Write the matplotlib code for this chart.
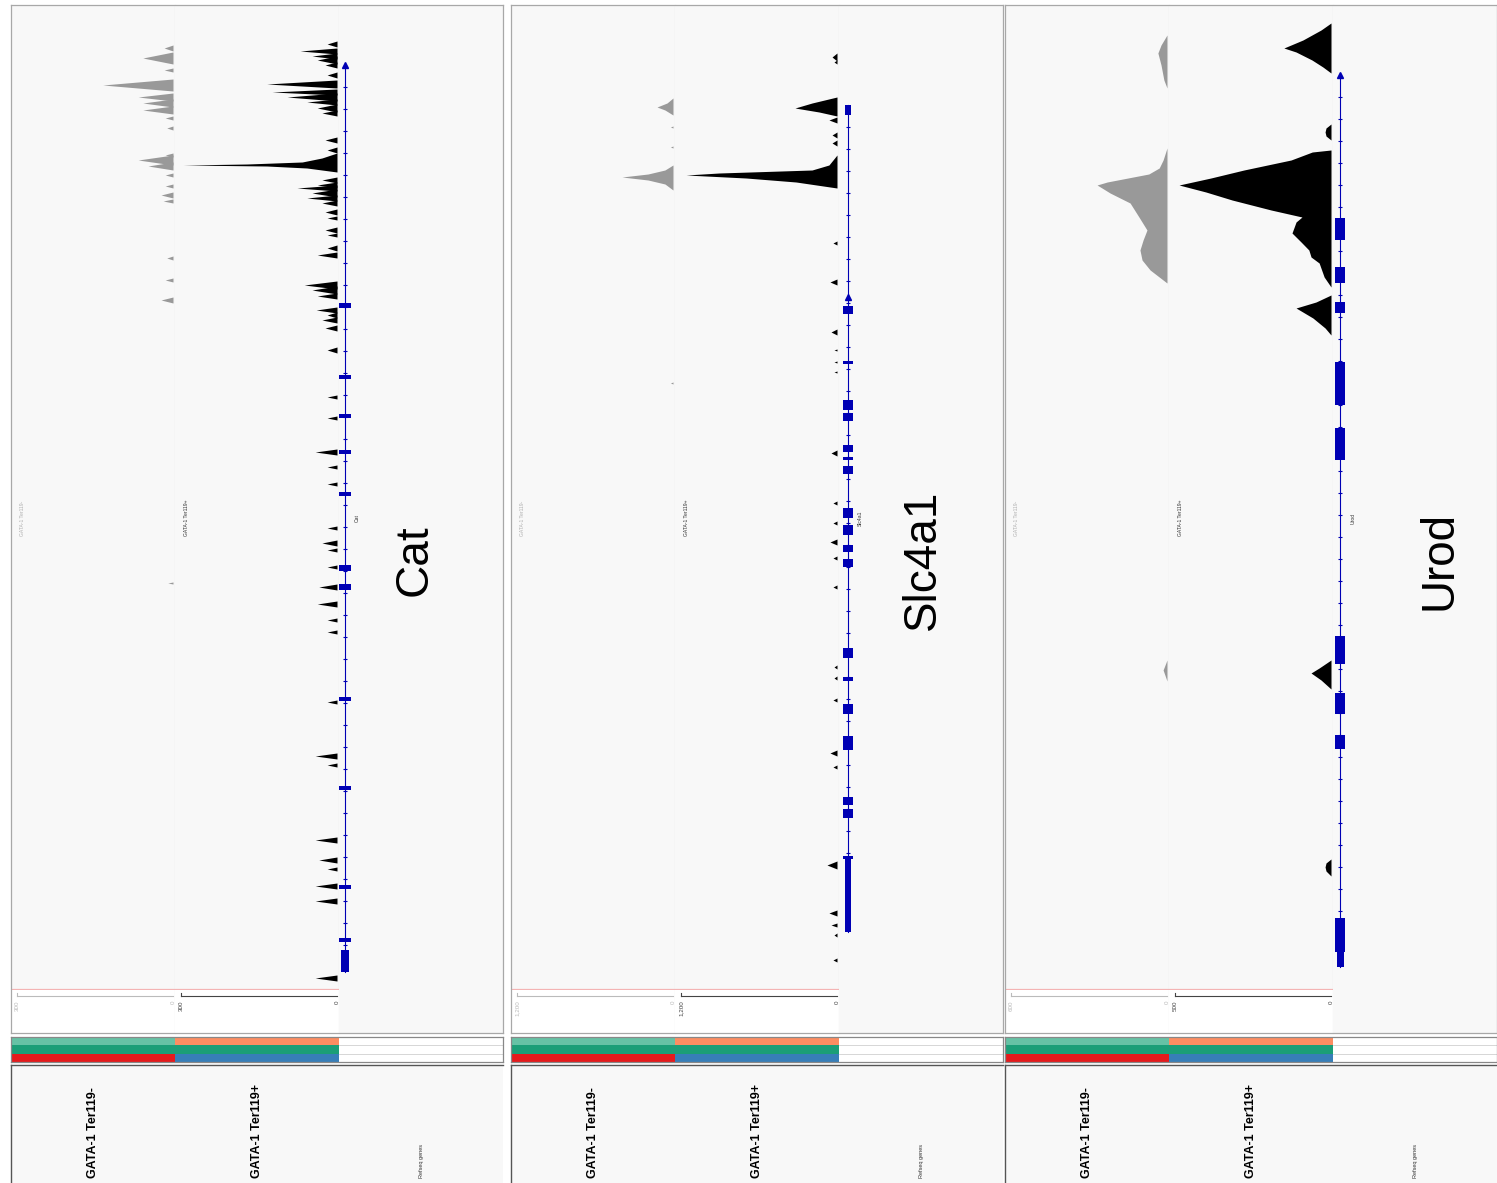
import numpy as np
import matplotlib.pyplot as plt

plt.rcParams['font.family'] = ['Liberation Sans', 'DejaVu Sans']

W, H = 1497, 1183

genes = ['Cat', 'Slc4a1', 'Urod']
track_names = ['GATA-1 Ter119-', 'GATA-1 Ter119+', 'Refseq genes']
scale_max = [[300, 300], [1200, 1200], [600, 500]]
scale_labels = [['300', '300'], ['1,200', '1,200'], ['600', '500']]

# positions are window coordinates (top of window = 5, bottom = 990)
# narrow spikes: (centre, half width, value)
cat_minus_spikes = [(48, 3, 17), (58, 6, 58), (70, 2, 17), (85, 6, 135), (97, 4, 67),
                    (103, 4, 58), (110, 4, 58), (118, 2, 15), (128, 2, 12), (155, 2, 15),
                    (160, 5, 67), (166, 4, 48), (175, 2, 15), (186, 2, 15), (195, 3, 23),
                    (201, 2, 19), (258, 2, 12), (280, 2, 15), (300, 3, 23), (583, 1, 10)]
cat_plus_spikes = [(44, 3, 19), (51, 3, 71), (56, 3, 48), (60, 4, 38), (65, 3, 23),
                   (75, 3, 19), (84, 4, 135), (92, 3, 125), (97, 4, 96), (102, 3, 58),
                   (108, 4, 38), (113, 3, 29), (140, 3, 23), (150, 3, 19), (180, 3, 29),
                   (185, 3, 38), (188, 3, 77), (193, 4, 48), (198, 3, 58), (203, 3, 29),
                   (212, 3, 23), (218, 2, 19), (230, 3, 23), (235, 2, 19), (248, 3, 19),
                   (255, 3, 38), (285, 4, 63), (290, 4, 48), (296, 3, 38), (310, 3, 40),
                   (315, 3, 19), (320, 3, 29), (328, 3, 23), (350, 3, 19), (397, 2, 19),
                   (418, 2, 19), (452, 3, 42), (467, 2, 19), (484, 2, 19), (528, 2, 19),
                   (543, 3, 29), (550, 2, 19), (567, 2, 19), (587, 3, 35), (604, 3, 38),
                   (620, 2, 19), (632, 2, 19), (702, 2, 19), (756, 3, 42), (765, 2, 19),
                   (840, 3, 42), (860, 3, 35), (869, 2, 19), (886, 3, 42), (901, 3, 42),
                   (978, 3, 42)]
cat_plus_peak_pos = [153, 158, 162, 164, 165, 166, 168, 172]
cat_plus_peak_val = [0, 29, 67, 173, 296, 135, 58, 0]

slc_minus_spikes = [(127, 1, 20), (147, 1, 20), (383, 1, 20)]
slc_minus_peak1_pos = [98, 103, 107, 110, 115]
slc_minus_peak1_val = [0, 46, 123, 62, 0]
slc_minus_peak2_pos = [165, 170, 174, 177, 180, 184, 190]
slc_minus_peak2_val = [0, 62, 192, 392, 192, 62, 0]
slc_plus_spikes = [(57, 4, 38), (62, 2, 23), (120, 3, 62), (135, 3, 38), (143, 3, 38),
                   (243, 2, 31), (282, 3, 54), (332, 3, 46), (350, 1, 23), (362, 1, 23),
                   (372, 1, 23), (453, 3, 46), (503, 2, 31), (523, 2, 31), (542, 3, 54),
                   (558, 2, 31), (587, 2, 31), (667, 2, 23), (678, 2, 23), (700, 2, 31),
                   (753, 3, 54), (767, 2, 31), (865, 4, 77), (913, 3, 62), (925, 2, 46),
                   (935, 2, 23), (960, 2, 31)]
slc_plus_peak1_pos = [97, 103, 108, 112, 116]
slc_plus_peak1_val = [0, 192, 323, 138, 0]
slc_plus_peak2_pos = [155, 165, 170, 173, 175, 178, 182, 188]
slc_plus_peak2_val = [0, 62, 192, 907, 1161, 700, 315, 0]

urod_minus_peak1_pos = [35, 45, 53, 65, 80, 88]
urod_minus_peak1_val = [0, 23, 35, 23, 12, 0]
urod_minus_peak2_pos = [148, 160, 168, 174, 178, 182, 185, 188, 193, 203, 217, 230, 240,
                        250, 260, 270, 283]
urod_minus_peak2_val = [0, 15, 30, 70, 150, 230, 269, 250, 219, 142, 108, 77, 92, 104,
                        96, 65, 0]
urod_minus_peak3_pos = [660, 670, 681]
urod_minus_peak3_val = [0, 15, 0]
urod_plus_peak1_pos = [23, 30, 40, 48, 52, 60, 67, 73]
urod_plus_peak1_val = [0, 32, 90, 151, 112, 61, 26, 0]
urod_plus_peak2_pos = [124, 128, 132, 136, 140]
urod_plus_peak2_val = [0, 16, 19, 16, 0]
urod_plus_peak3_pos = [150, 152, 160, 170, 178, 185, 192, 200, 210, 217, 222, 233, 242,
                       250, 257, 263, 277, 287]
urod_plus_peak3_val = [0, 60, 128, 279, 385, 487, 401, 317, 192, 93, 112, 125, 96, 71,
                       64, 38, 22, 0]
urod_plus_peak4_pos = [295, 302, 308, 318, 328, 335]
urod_plus_peak4_val = [0, 48, 112, 58, 19, 0]
urod_plus_peak5_pos = [660, 668, 673, 680, 689]
urod_plus_peak5_val = [0, 38, 64, 32, 0]
urod_plus_peak6_pos = [859, 863, 867, 871, 876]
urod_plus_peak6_val = [0, 16, 19, 16, 0]

# gene models: span, strand arrow starts, exons (start, end) wide / narrow
cat_span = (65, 972)
cat_starts = [65]
cat_exons = [(303, 308), (375, 379), (414, 418), (450, 454), (492, 496), (565, 571),
             (584, 590), (697, 701), (786, 790), (885, 889), (938, 942)]
cat_exons_narrow = [(950, 972)]
slc_span = (105, 932)
slc_starts = [297]
slc_exons = [(306, 314), (361, 364), (400, 410), (413, 421), (445, 452), (457, 460),
             (466, 474), (508, 518), (525, 535), (545, 552), (559, 567), (648, 658),
             (677, 681), (704, 714), (736, 750), (797, 805), (809, 818), (856, 859)]
slc_exons_narrow = [(105, 115), (859, 932)]
urod_span = (75, 967)
urod_starts = [75]
urod_exons = [(218, 240), (267, 283), (302, 313), (362, 405), (428, 460), (636, 664),
              (693, 714), (735, 749), (918, 952)]
urod_exons_narrow = [(952, 967)]

spikes = [[cat_minus_spikes, cat_plus_spikes],
          [slc_minus_spikes, slc_plus_spikes],
          [[], []]]
profiles = [[[], [(cat_plus_peak_pos, cat_plus_peak_val)]],
            [[(slc_minus_peak1_pos, slc_minus_peak1_val), (slc_minus_peak2_pos, slc_minus_peak2_val)],
             [(slc_plus_peak1_pos, slc_plus_peak1_val), (slc_plus_peak2_pos, slc_plus_peak2_val)]],
            [[(urod_minus_peak1_pos, urod_minus_peak1_val), (urod_minus_peak2_pos, urod_minus_peak2_val),
              (urod_minus_peak3_pos, urod_minus_peak3_val)],
             [(urod_plus_peak1_pos, urod_plus_peak1_val), (urod_plus_peak2_pos, urod_plus_peak2_val),
              (urod_plus_peak3_pos, urod_plus_peak3_val), (urod_plus_peak4_pos, urod_plus_peak4_val),
              (urod_plus_peak5_pos, urod_plus_peak5_val), (urod_plus_peak6_pos, urod_plus_peak6_val)]]]
gene_models = [(cat_span, cat_starts, cat_exons, cat_exons_narrow),
               (slc_span, slc_starts, slc_exons, slc_exons_narrow),
               (urod_span, urod_starts, urod_exons, urod_exons_narrow)]

# layout (pixels)
panel_x = [11, 511, 1005]
TW = 164          # track column width
SCALE_PX = 156    # pixels for the full data range
TOP, BOTTOM = 5, 990
gene_x = [0.037, 0.055, 0.045]
name_x = [0.46, 0.51, 0.65]
BG = '#f8f8f8'
FRAME = '#a8a8a8'
DIV = '#cccccc'
GENE_BLUE = '#0000b4'
signal_colors = ['#999999', '#000000']
label_colors = ['#b0b0b0', '#333333']
strip_colors = [['#66c2a5', '#1b9e77', '#e41a1c'],
                ['#fc8d62', '#1b9e77', '#377eb8']]

fig = plt.figure(figsize=(W / 100, H / 100), dpi=100)
fig.patch.set_facecolor('white')


def px_axes(x, y, w, h):
    ax = fig.add_axes([x / W, 1 - (y + h) / H, w / W, h / H])
    ax.set_xticks([])
    ax.set_yticks([])
    return ax


def style_spines(ax, color=DIV, lw=0.8, sides=('right',)):
    for s, sp in ax.spines.items():
        sp.set_visible(s in sides)
        sp.set_color(color)
        sp.set_linewidth(lw)


for p in range(3):
    x0 = panel_x[p]

    # ---- signal tracks ----
    for t in range(2):
        sm = scale_max[p][t]
        xl = (sm * (TW - 2) / SCALE_PX, -sm * 2 / SCALE_PX)
        ax = px_axes(x0 + t * TW, TOP, TW, BOTTOM - TOP)
        ax.set_facecolor(BG)
        ax.set_xlim(*xl)
        ax.set_ylim(BOTTOM, TOP)
        style_spines(ax)
        col = signal_colors[t]
        for c, hw, v in spikes[p][t]:
            ax.fill_betweenx([c - hw, c, c + hw], 0, [0, v, 0], color=col, lw=0)
        for pos, val in profiles[p][t]:
            ax.fill_betweenx(pos, 0, val, color=col, lw=0)
        ax.axhline(BOTTOM - 1.5, color='#f4b4b4', lw=0.9)
        ax.text(11 / TW, 0.479, track_names[t], transform=ax.transAxes, rotation=90,
                fontsize=3.6, color=label_colors[t], ha='center', va='center')

        # scale area
        axs = px_axes(x0 + t * TW, BOTTOM, TW, 43)
        axs.set_facecolor('white')
        axs.set_xlim(*xl)
        axs.set_ylim(1, 0)
        style_spines(axs)
        lc = '#bbbbbb' if t == 0 else '#444444'
        axs.plot([sm, 0], [0.15, 0.15], color=lc, lw=0.8)
        axs.plot([sm, sm], [0.07, 0.15], color=lc, lw=0.8)
        axs.text(sm, 0.24, scale_labels[p][t], rotation=90, fontsize=4.5, color=lc,
                 ha='center', va='top')
        axs.text(0, 0.24, '0', rotation=90, fontsize=4.5, color=lc, ha='center', va='top')

    # ---- gene track ----
    span, starts, exons, exons_n = gene_models[p]
    gx = gene_x[p]
    axg = px_axes(x0 + 2 * TW, TOP, TW, BOTTOM - TOP)
    axg.set_facecolor(BG)
    axg.set_xlim(0, 1)
    axg.set_ylim(BOTTOM, TOP)
    style_spines(axg, sides=())
    axg.plot([gx, gx], span, color=GENE_BLUE, lw=0.8)
    arrows = np.arange(span[0] + 22, span[1], 22)
    axg.plot([gx] * len(arrows), arrows, ls='none', marker='_', ms=3.5, mew=0.8,
             color=GENE_BLUE)
    axg.plot([gx] * len(starts), starts, ls='none', marker='^', ms=4, color=GENE_BLUE)
    ew = 0.068 if p == 0 else 0.062
    for s, e in exons:
        axg.barh((s + e) / 2, ew, height=e - s, left=gx - ew / 2, color=GENE_BLUE, lw=0)
    for s, e in exons_n:
        axg.barh((s + e) / 2, ew * 0.65, height=e - s, left=gx - ew * 0.325,
                 color=GENE_BLUE, lw=0)
    axg.text(gx + 0.075, 518, genes[p], rotation=90, fontsize=3.6, color='#333333',
             ha='center', va='center')
    axg.text(name_x[p], 560, genes[p], rotation=90, fontsize=33, color='black',
             ha='center', va='center')

    axgs = px_axes(x0 + 2 * TW, BOTTOM, TW, 43)
    axgs.set_facecolor(BG)
    style_spines(axgs, sides=())

    # panel frame
    axf = px_axes(x0, TOP, 3 * TW, 1033 - TOP)
    axf.patch.set_alpha(0)
    style_spines(axf, color=FRAME, lw=0.9, sides=('left', 'right', 'top', 'bottom'))

    # ---- colour strips ----
    axc = px_axes(x0, 1037, 3 * TW, 25)
    axc.set_facecolor('white')
    axc.set_xlim(0, 3)
    axc.set_ylim(3, 0)
    for t in range(2):
        for r in range(3):
            axc.barh(r + 0.5, 1, height=1, left=t, color=strip_colors[t][r], lw=0)
    for r in (1, 2):
        axc.plot([2, 3], [r, r], color='#d0d0d0', lw=0.6)
    style_spines(axc, color='#888888', lw=0.9, sides=('left', 'right', 'top', 'bottom'))

    # ---- name panel ----
    axn = px_axes(x0, 1065, 3 * TW, H - 1065)
    axn.set_facecolor(BG)
    axn.set_xlim(0, 3)
    axn.set_ylim(1, 0)
    style_spines(axn, color='#555555', lw=1.0, sides=('left', 'top'))
    for t in range(2):
        axn.text(t + 0.5, 0.955, track_names[t], rotation=90, fontsize=9,
                 fontweight='bold', ha='left', va='center', rotation_mode='anchor')
    axn.text(2.5, 0.955, track_names[2], rotation=90, fontsize=4, color='#333333',
             ha='left', va='center', rotation_mode='anchor')

fig.savefig('out.png', dpi=100, facecolor='white')
